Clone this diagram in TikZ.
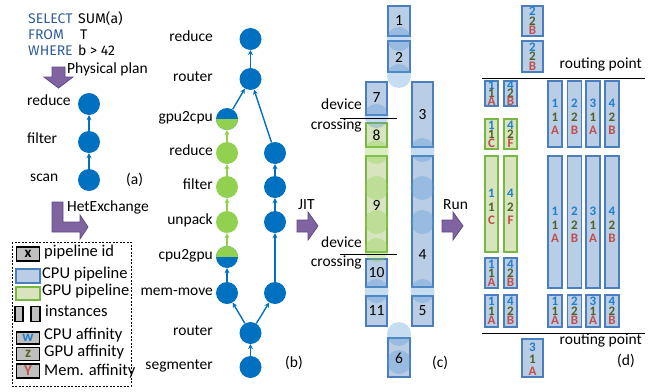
\documentclass[tikz,border=0pt]{standalone}
\usepackage{fontspec}
\setmainfont{Carlito}
\newfontfamily\sqlfont{Fira Sans}
\usetikzlibrary{arrows.meta}
\definecolor{opblue}{HTML}{0070C0}
\definecolor{opgreen}{HTML}{92D050}
\definecolor{cpuedge}{HTML}{4A7EBF}
\definecolor{cpufill}{HTML}{B9CDE5}
\definecolor{gpuedge}{HTML}{77B843}
\definecolor{gpufill}{HTML}{D7E4BD}
\definecolor{blobblue}{HTML}{5B9BD5}
\definecolor{plumfill}{HTML}{8064A2}
\definecolor{plumedge}{HTML}{5F4A80}
\definecolor{sqlblue}{HTML}{2E5C9A}
\definecolor{affblue}{HTML}{1F7FD0}
\definecolor{affgreen}{HTML}{4F6228}
\definecolor{affred}{HTML}{C0504D}
\definecolor{keygray}{HTML}{BFBFBF}
% one stack of affinity labels: name, x, y, sep, cpu, gpu, mem
\newcommand{\affstack}[7]{%
  \node[cpuaff] (#1c) at (#2,#3-#4) {#5};
  \node[gpuaff] (#1g) at (#2,#3) {#6};
  \node[memaff] (#1m) at (#2,#3+#4) {#7};}

\begin{document}
\begin{tikzpicture}[x=1pt,y=-1pt,font=\fontsize{15.5}{17}\selectfont,
  op/.style={circle,fill=opblue,minimum size=22pt,inner sep=0pt},
  gop/.style={op,fill=opgreen},
  gtocpu/.style={op,path picture={\fill[opgreen] (path picture bounding box.west) rectangle (path picture bounding box.south east);}},
  cputog/.style={op,path picture={\fill[opgreen] (path picture bounding box.west) rectangle (path picture bounding box.north east);}},
  flow/.style={-{Stealth[length=5pt,width=5pt]},line width=1.4pt,opblue},
  gflow/.style={flow,opgreen},
  cpupipe/.style={draw=cpuedge,fill=cpufill,line width=1.8pt},
  gpupipe/.style={draw=gpuedge,fill=gpufill,line width=1.8pt},
  blob/.style={circle,fill=blobblue,opacity=0.35,minimum size=24pt,inner sep=0pt},
  gblob/.style={blob,fill=opgreen,opacity=0.35},
  bigarrow/.style={fill=plumfill,draw=plumedge,line width=0.8pt},
  keybox/.style={draw=black,fill=keygray,line width=1.8pt,inner sep=0pt,font=\fontsize{15}{15}\selectfont\bfseries},
  keytext/.style={anchor=mid west,inner sep=0pt,font=\fontsize{16.5}{17}\selectfont},
  cpuaff/.style={inner sep=0pt,text=affblue,font=\fontsize{13}{13}\selectfont\bfseries},
  gpuaff/.style={cpuaff,text=affgreen},
  memaff/.style={cpuaff,text=affred},
  pipeno/.style={inner sep=0pt}]
\useasboundingbox (0,0) rectangle (656,391);

% (a) query and physical plan
\node[anchor=base west,inner sep=0pt,font=\sqlfont\fontsize{14}{14}\selectfont,text=sqlblue] (kwsel) at (28,23.5) {SELECT};
\node[anchor=base west,inner sep=0pt,font=\sqlfont\fontsize{14}{14}\selectfont,text=sqlblue] (kwfrom) at (28,39) {FROM};
\node[anchor=base west,inner sep=0pt,font=\sqlfont\fontsize{14}{14}\selectfont,text=sqlblue] (kwwhere) at (28,55) {WHERE};
\node[anchor=base west,inner sep=0pt,font=\sqlfont\fontsize{14}{14}\selectfont] (qsum) at (78,23.5) {SUM(a)};
\node[anchor=base west,inner sep=0pt,font=\sqlfont\fontsize{14}{14}\selectfont] (qt) at (80,39) {T};
\node[anchor=base west,inner sep=0pt,font=\sqlfont\fontsize{14}{14}\selectfont] (qb) at (78,55) {b > 42};
\draw[bigarrow] (52,67) -- (65,67) -- (65,77) -- (73,77) -- (58.5,88) -- (44,77) -- (52,77) -- cycle;
\node[anchor=mid west,inner sep=0pt] (tphys) at (67,71) {Physical plan};

\node[op] (areduce) at (89,104) {};
\node[op] (afilter) at (89,142) {};
\node[op] (ascan) at (89,180) {};
\node[anchor=mid west,inner sep=0pt] (lareduce) at (27,103) {reduce};
\node[anchor=mid west,inner sep=0pt] (lafilter) at (27,141) {filter};
\node[anchor=mid west,inner sep=0pt] (lascan) at (30,179) {scan};
\draw[flow] (ascan) -- (afilter);
\draw[flow] (afilter) -- (areduce);
\node[anchor=mid west,inner sep=0pt] (taa) at (126,182) {(a)};

\draw[bigarrow] (52,202) -- (63,202) -- (63,222) -- (80,222) -- (80,215) -- (88,227) -- (80,239) -- (80,232) -- (52,232) -- cycle;
\node[anchor=mid west,inner sep=0pt] (thet) at (67,209) {HetExchange};

% legend
\draw[dash pattern=on 2pt off 1.5pt] (12,242) rectangle (131,386);
\node[keybox,minimum width=23pt,minimum height=14pt] (kid) at (28,254) {x};
\node[keytext] (lid) at (44,254) {pipeline id};
\draw[cpupipe,line width=1.5pt] (16,269) rectangle (40,283);
\node[keytext] (lcpu) at (42,276) {CPU pipeline};
\draw[gpupipe,line width=1.5pt] (16,287) rectangle (40,300);
\node[keytext] (lgpu) at (42,293) {GPU pipeline};
\node[keybox,minimum width=8pt,minimum height=15pt] (kin1) at (19,314) {};
\node[keybox,minimum width=9pt,minimum height=15pt] (kin2) at (35.5,314) {};
\node[keytext] (lin) at (45,314) {instances};
\node[keybox,minimum width=23pt,minimum height=12pt,text=affblue] (kcaff) at (28,338) {w};
\node[keytext] (lcaff) at (44,337) {CPU affinity};
\node[keybox,minimum width=23pt,minimum height=13pt,text=affgreen] (kgaff) at (28,354) {z};
\node[keytext] (lgaff) at (44,354) {GPU affinity};
\node[keybox,minimum width=23pt,minimum height=14pt,text=affred] (kmaff) at (28,371) {Y};
\node[keytext] (lmaff) at (44,373) {Mem. affinity};

% (b) HetExchange plan
\node[op] (breduce) at (250.5,39) {};
\node[op] (brouter) at (250.5,79) {};
\node[gtocpu] (bg2c) at (227,119) {};
\node[gop] (bgreduce) at (227,153) {};
\node[gop] (bgfilter) at (227,187) {};
\node[gop] (bunpack) at (227,222) {};
\node[cputog] (bc2g) at (227,257) {};
\node[op] (bmove) at (227,293) {};
\node[op] (bcreduce) at (275,153) {};
\node[op] (bcfilter) at (275,187) {};
\node[op] (bcunpack) at (275,222) {};
\node[op] (bcmove) at (275,293) {};
\node[op] (bsrouter) at (250.5,333) {};
\node[op] (bseg) at (250.5,367) {};
\foreach \y/\t [count=\i] in {39/reduce,79/router,119/gpu2cpu,153/reduce,187/filter,222/unpack,257/cpu2gpu,293/mem-move,333/router,367/segmenter}
  \node[anchor=mid east,inner sep=0pt] (lb\i) at (213,\y) {\t};
\draw[flow] (bseg) -- (bsrouter);
\draw[flow] (bsrouter) -- (bmove);
\draw[flow] (bsrouter) -- (bcmove);
\draw[flow] (bmove) -- (bc2g);
\draw[gflow] (bc2g) -- (bunpack);
\draw[gflow] (bunpack) -- (bgfilter);
\draw[gflow] (bgfilter) -- (bgreduce);
\draw[gflow] (bgreduce) -- (bg2c);
\draw[flow] (bg2c) -- (brouter);
\draw[flow] (bcmove) -- (bcunpack);
\draw[flow] (bcunpack) -- (bcfilter);
\draw[flow] (bcfilter) -- (bcreduce);
\draw[flow] (bcreduce) -- (brouter);
\draw[flow] (brouter) -- (breduce);
\node[anchor=mid west,inner sep=0pt] (tbb) at (285,365) {(b)};

\draw[bigarrow] (297,220) -- (308,220) -- (308,212) -- (318,226) -- (308,240) -- (308,232) -- (297,232) -- cycle;
\node[anchor=mid west,inner sep=0pt] (tjit) at (298,207) {JIT};

% (c) pipelines
\draw[cpupipe] (388,6) rectangle (410,36);
\draw[cpupipe] (388,41) rectangle (410,72);
\draw[cpupipe] (366,82) rectangle (387,115);
\draw[cpupipe] (412,82) rectangle (433,147);
\draw[gpupipe] (366,123) rectangle (387,147);
\draw[gpupipe] (366,156) rectangle (387,252);
\draw[cpupipe] (412,156) rectangle (433,287);
\draw[cpupipe] (366,259) rectangle (387,287);
\draw[cpupipe] (366,296) rectangle (387,326);
\draw[cpupipe] (412,296) rectangle (433,326);
\draw[cpupipe] (388,338) rectangle (410,377);
\foreach \y in {39,76,334,362} \node[blob] at (399,\y) {};
\foreach \y in {116,291} \node[blob] at (376.5,\y) {};
\foreach \y in {152,188,222,250} \node[gblob] at (376.5,\y) {};
\foreach \y in {150,188,222,291} \node[blob] at (422.5,\y) {};
\node[pipeno] (c1) at (399,21) {1};
\node[pipeno] (c2) at (399,57) {2};
\node[pipeno] (c7) at (376.5,98) {7};
\node[pipeno] (c3) at (422.5,115) {3};
\node[pipeno] (c8) at (376.5,135) {8};
\node[pipeno] (c9) at (376.5,205) {9};
\node[pipeno] (c4) at (422.5,255) {4};
\node[pipeno] (c10) at (376.5,273) {10};
\node[pipeno] (c11) at (376.5,311) {11};
\node[pipeno] (c5) at (422.5,311) {5};
\node[pipeno] (c6) at (399,358) {6};
\coordinate (dc1a) at (340,118); \coordinate (dc1b) at (397,118);
\coordinate (dc2a) at (340,254); \coordinate (dc2b) at (397,254);
\draw[line width=0.8pt] (dc1a) -- (dc1b);
\draw[line width=0.8pt] (dc2a) -- (dc2b);
\node[anchor=mid east,inner sep=0pt] (tdev1) at (362,107) {device};
\node[anchor=mid east,inner sep=0pt] (tcross1) at (362,127) {crossing};
\node[anchor=mid east,inner sep=0pt] (tdev2) at (362,245) {device};
\node[anchor=mid east,inner sep=0pt] (tcross2) at (362,264) {crossing};
\node[anchor=mid west,inner sep=0pt] (tcc) at (432,365) {(c)};

\draw[bigarrow] (442,220) -- (453,220) -- (453,212) -- (463,226) -- (453,240) -- (453,232) -- (442,232) -- cycle;
\node[anchor=mid west,inner sep=0pt] (trun) at (443,207) {Run};

% (d) instances
\draw[cpupipe] (522,6) rectangle (543,36);
\draw[cpupipe] (522,41) rectangle (543,72);
\draw[cpupipe] (485,81) rectangle (498,106);
\draw[cpupipe] (504,81) rectangle (517,106);
\draw[gpupipe] (485,119) rectangle (498,149);
\draw[gpupipe] (504,119) rectangle (517,149);
\draw[gpupipe] (485,156) rectangle (498,252);
\draw[gpupipe] (504,156) rectangle (517,252);
\draw[cpupipe] (485,258) rectangle (498,288);
\draw[cpupipe] (504,258) rectangle (517,288);
\draw[cpupipe] (485,295) rectangle (498,327);
\draw[cpupipe] (504,295) rectangle (517,327);
\draw[cpupipe] (522,339) rectangle (543,377);
\foreach \x in {548,567.5,586,605} {
  \draw[cpupipe] (\x,81) rectangle (\x+14,147);
  \draw[cpupipe] (\x,156) rectangle (\x+14,288);
  \draw[cpupipe] (\x,295) rectangle (\x+14,327);
}
\affstack{dt1}{532.5}{21}{9.5}{2}{2}{B}
\affstack{dt2}{532.5}{56.5}{9.5}{2}{2}{B}
\affstack{da1}{491.5}{93.5}{8}{1}{1}{A}
\affstack{da2}{510.5}{93.5}{8}{4}{2}{B}
\affstack{db1}{491.5}{134}{9}{1}{1}{C}
\affstack{db2}{510.5}{134}{9}{4}{2}{F}
\affstack{dc1}{491.5}{207}{13.5}{1}{1}{C}
\affstack{dc2}{510.5}{207}{13.5}{4}{2}{F}
\affstack{dd1}{491.5}{273}{9}{1}{1}{A}
\affstack{dd2}{510.5}{273}{9}{4}{2}{B}
\affstack{de1}{491.5}{311}{9.5}{1}{1}{A}
\affstack{de2}{510.5}{311}{9.5}{4}{2}{B}
\foreach \x/\c/\g/\m in {555/1/1/A,574.5/2/2/B,593/3/1/A,612/4/2/B} {
  \affstack{rt\c}{\x}{117}{13.5}{\c}{\g}{\m}
  \affstack{rm\c}{\x}{225}{13.5}{\c}{\g}{\m}
  \affstack{rb\c}{\x}{311}{9.5}{\c}{\g}{\m}
}
\affstack{dl}{532.5}{359}{12}{3}{1}{A}
\coordinate (rp1a) at (482,78); \coordinate (rp1b) at (645,78);
\coordinate (rp2a) at (482,333); \coordinate (rp2b) at (645,333);
\draw[line width=0.8pt] (rp1a) -- (rp1b);
\draw[line width=0.8pt] (rp2a) -- (rp2b);
\node[anchor=mid east,inner sep=0pt] (trp1) at (642,66) {routing point};
\node[anchor=mid east,inner sep=0pt] (trp2) at (642,342) {routing point};
\node[anchor=mid west,inner sep=0pt] (tdd) at (617,363) {(d)};
\end{tikzpicture}
\end{document}
